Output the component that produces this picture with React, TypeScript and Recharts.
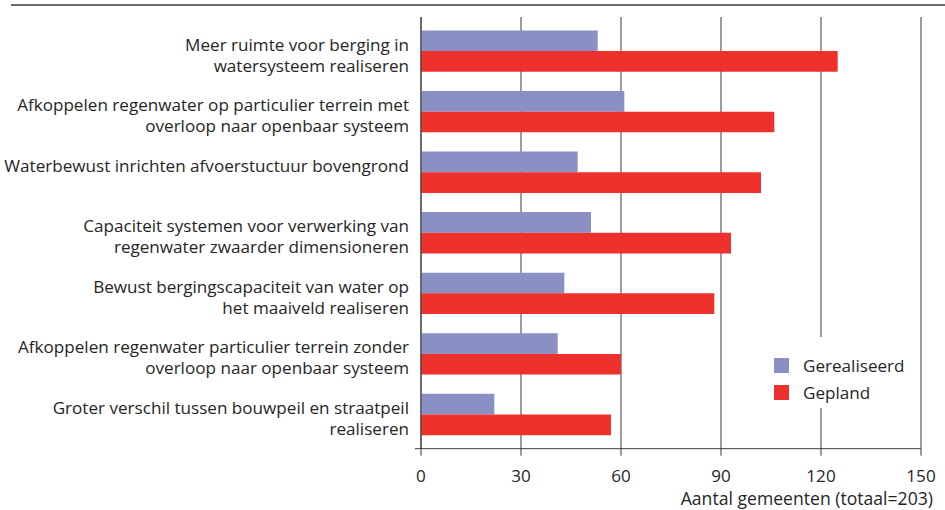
import React from "react";
import { BarChart, Bar, XAxis, YAxis, CartesianGrid, Legend } from "recharts";

// Maatregelen (labels wrap on "\n")
const categories: string[] = [
  "Meer ruimte voor berging in\nwatersysteem realiseren",
  "Afkoppelen regenwater op particulier terrein met\noverloop naar openbaar systeem",
  "Waterbewust inrichten afvoerstuctuur bovengrond",
  "Capaciteit systemen voor verwerking van\nregenwater zwaarder dimensioneren",
  "Bewust bergingscapaciteit van water op\nhet maaiveld realiseren",
  "Afkoppelen regenwater particulier terrein zonder\noverloop naar openbaar systeem",
  "Groter verschil tussen bouwpeil en straatpeil\nrealiseren",
];

const gerealiseerd: number[] = [53, 61, 47, 51, 43, 41, 22];
const gepland: number[] = [125, 106, 102, 93, 88, 60, 57];

const seriesOrder: string[] = ["Gerealiseerd", "Gepland"];
const xTicks: number[] = [0, 30, 60, 90, 120, 150];
const xTitle = "Aantal gemeenten (totaal=203)";

const data = categories.map((name, i) => ({
  name,
  Gerealiseerd: gerealiseerd[i],
  Gepland: gepland[i],
}));

const FONT = "'Open Sans', 'Noto Sans', sans-serif";
const TEXT = "#262626";
const FS = 17.1;
const COLOR_REAL = "#8a8fc4";
const COLOR_PLAN = "#ee312c";
const LINE = "#3a3a3a";

const CategoryTick = (props: any) => {
  const { x, y, payload } = props;
  const lines = String(payload.value).split("\n");
  return (
    <text x={x} y={y} textAnchor="end" fill={TEXT} fontFamily={FONT} fontSize={FS}>
      {lines.map((ln, i) => (
        <tspan key={i} x={x} dy={i === 0 ? 0 : 21}>
          {ln}
        </tspan>
      ))}
    </text>
  );
};

const ValueTick = (props: any) => {
  const { x, y, payload } = props;
  const axisY = y - 7;
  return (
    <g>
      {payload.value === 0 && (
        <line x1={x - 6} y1={axisY} x2={x} y2={axisY} stroke={LINE} strokeWidth={1} />
      )}
      <text x={x} y={y} dy={26} textAnchor="middle" fill={TEXT} fontFamily={FONT} fontSize={FS}>
        {payload.value}
      </text>
    </g>
  );
};

const AxisTitle = (props: any) => {
  const vb = props.viewBox || {};
  return (
    <text
      x={vb.x + vb.width + 12}
      y={vb.y + 56.5}
      textAnchor="end"
      fill={TEXT}
      fontFamily={FONT}
      fontSize={17.6}
    >
      {xTitle}
    </text>
  );
};

const LegendBox = (props: any) => {
  const items = [...(props.payload || [])].sort(
    (a: any, b: any) => seriesOrder.indexOf(a.value) - seriesOrder.indexOf(b.value)
  );
  return (
    <div style={{ background: "#fff", width: "100%", height: "100%", paddingTop: 15, paddingLeft: 14, boxSizing: "border-box" }}>
      {items.map((it: any, i: number) => (
        <div key={i} style={{ display: "flex", alignItems: "center", height: 27 }}>
          <span style={{ display: "inline-block", width: 15, height: 15, background: it.color, marginRight: 14 }} />
          <span style={{ fontFamily: FONT, fontSize: FS, color: TEXT, lineHeight: "15px" }}>{it.value}</span>
        </div>
      ))}
    </div>
  );
};

export default function App() {
  return (
    <div style={{ position: "absolute", left: 0, top: 0, width: 945, height: 510, background: "#fff" }}>
      <div style={{ position: "absolute", left: 11, top: 4, width: 934, height: 2, background: "#6b6b6b" }} />
      <BarChart
        width={945}
        height={510}
        data={data}
        layout="vertical"
        margin={{ top: 17, right: 24, bottom: 21.3, left: 0 }}
        barGap={0}
        barSize={20.7}
      >
        <CartesianGrid horizontal={false} vertical stroke={LINE} strokeWidth={1} />
        <XAxis
          type="number"
          domain={[0, 150]}
          ticks={xTicks}
          interval={0}
          height={40}
          axisLine={{ stroke: LINE, strokeWidth: 1 }}
          tickLine={{ stroke: LINE, strokeWidth: 1 }}
          tickSize={7}
          tickMargin={0}
          tick={<ValueTick />}
          label={{ content: <AxisTitle /> }}
        />
        <YAxis
          type="category"
          dataKey="name"
          width={421}
          interval={0}
          axisLine={{ stroke: LINE, strokeWidth: 1 }}
          tickLine={false}
          tickSize={0}
          tickMargin={12}
          padding={{ top: 3.4, bottom: 4.4 }}
          tick={<CategoryTick />}
        />
        <Legend
          layout="vertical"
          align="center"
          verticalAlign="middle"
          wrapperStyle={{ left: 760, top: 337, width: 145, height: 71 }}
          content={<LegendBox />}
        />
        <Bar dataKey="Gerealiseerd" fill={COLOR_REAL} isAnimationActive={false} />
        <Bar dataKey="Gepland" fill={COLOR_PLAN} isAnimationActive={false} />
      </BarChart>
    </div>
  );
}
